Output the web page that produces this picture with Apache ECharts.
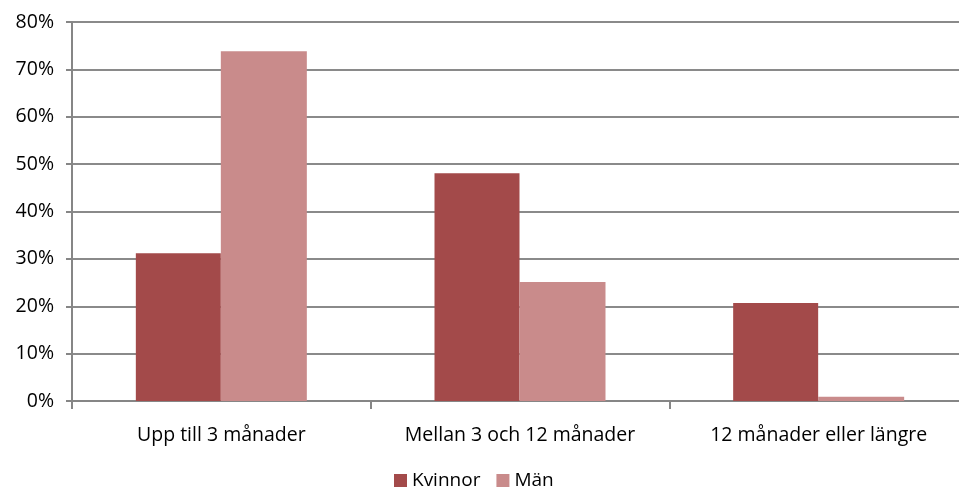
<!DOCTYPE html>
<html><head><meta charset="utf-8">
<script src="https://cdn.jsdelivr.net/npm/echarts@6/dist/echarts.min.js"></script>
<style>html,body{margin:0;padding:0;background:#fff}#c{width:959px;height:490px}</style>
</head><body><div id="c"></div>
<script>
var categories = ['Upp till 3 månader', 'Mellan 3 och 12 månader', '12 månader eller längre'];
var kvinnor = [31.2, 48.1, 20.7];
var man = [73.8, 25.1, 0.9];
var yTicks = [0, 10, 20, 30, 40, 50, 60, 70, 80];

var chart = echarts.init(document.getElementById('c'));
var font = 'Open Sans';
chart.setOption({
  animation: false,
  grid: {left: 72, right: -9, top: 22, bottom: 89, containLabel: false, outerBoundsMode: 'none'},
  legend: {
    data: ['Kvinnor', 'Män'], top: 471, left: 394, padding: 0, itemWidth: 13, itemHeight: 13, itemGap: 16,
    icon: 'rect',
    textStyle: {fontFamily: font, fontSize: 19, lineHeight: 19, color: '#000'}
  },
  xAxis: {
    type: 'category', data: categories,
    axisLine: {lineStyle: {color: '#868686', width: 2}},
    axisTick: {show: true, length: 8, lineStyle: {color: '#868686', width: 2}},
    axisLabel: {fontFamily: font, fontSize: 19.5, color: '#000', margin: 24, interval: 0}
  },
  yAxis: {
    type: 'value', min: yTicks[0], max: yTicks[yTicks.length - 1], interval: 10,
    axisLine: {show: true, lineStyle: {color: '#868686', width: 2}},
    axisTick: {show: true, length: 6, lineStyle: {color: '#868686', width: 2}},
    splitLine: {lineStyle: {color: '#8a8a8a', width: 2}},
    axisLabel: {fontFamily: font, fontSize: 19.5, color: '#000', margin: 18, formatter: '{value}%'}
  },
  series: [
    {name: 'Kvinnor', type: 'bar', data: kvinnor, barWidth: 85, barGap: '0%', itemStyle: {color: '#A34A4A'}},
    {name: 'Män', type: 'bar', data: man, barWidth: 86, itemStyle: {color: '#C98B8B'}}
  ]
});
</script></body></html>
